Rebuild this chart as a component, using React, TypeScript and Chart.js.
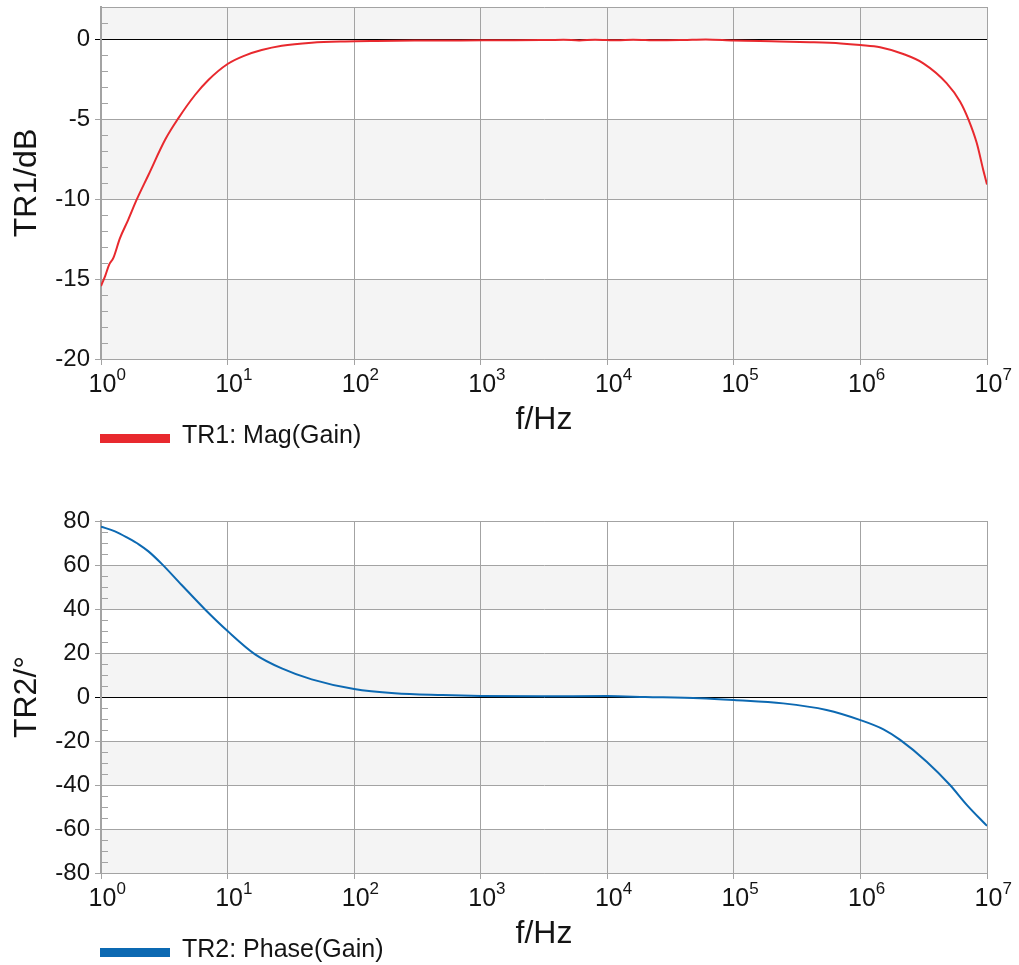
import React, { useEffect, useRef } from 'react';
import { Chart, registerables } from 'chart.js';

Chart.register(...registerables);

// ---------- data ----------
const xTickValues = [1, 10, 100, 1000, 10000, 100000, 1000000, 10000000];

const magFreq = [
  1, 1.08, 1.16, 1.25, 1.41, 1.64, 1.91, 2.37, 3.21, 4.08, 5.53, 7.05, 10, 13.5, 18.6, 26.8, 46.2, 84.7,
  150, 300, 700, 1500, 3000, 4500, 6000, 8000, 12000, 16000, 25000, 40000, 60000, 100000, 230000, 400000,
  700000, 1000000, 1430000, 2180000, 3140000, 4810000, 6120000, 7130000, 8300000, 9350000, 10000000,
];
const magDb = [
  -15.44, -14.8, -14.1, -13.7, -12.46, -11.3, -10.06, -8.5, -6.3, -4.96, -3.5, -2.56, -1.56, -1.05, -0.69, -0.42, -0.23, -0.15,
  -0.12, -0.1, -0.09, -0.08, -0.07, -0.04, -0.09, -0.04, -0.08, -0.04, -0.08, -0.06, -0.03, -0.1, -0.15, -0.2,
  -0.28, -0.38, -0.52, -0.94, -1.52, -2.77, -3.9, -5.02, -6.5, -8.2, -9.1,
];

const phaseFreq = [
  1, 1.29, 1.64, 2.0, 2.37, 3.02, 4.34, 6.64, 10, 16.5, 26.8, 46.2, 100, 209, 500, 1000, 3000, 10000, 20000,
  54000, 100000, 245000, 540000, 1000000, 1520000, 2060000, 3340000, 5100000, 6920000, 10000000,
];
const phaseDeg = [
  77.4, 75.3, 72.2, 69.3, 66.2, 60.5, 50.9, 39.8, 30.0, 19.4, 13.0, 8.0, 3.6, 1.7, 0.9, 0.5, 0.3, 0.4, 0.0,
  -0.6, -1.4, -2.9, -5.9, -10.5, -14.7, -19.5, -29.4, -40.0, -49.0, -58.6,
];

const magTicks = [-20, -15, -10, -5, 0];
const phaseTicks = [-80, -60, -40, -20, 0, 20, 40, 60, 80];

// ---------- styles ----------
const GRID = '#a3a3a3';
const BAND = '#f4f4f4';
const TEXT = '#141414';
const SANS = '"Liberation Sans", Arial, sans-serif';

type PanelCfg = {
  freq: number[];
  vals: number[];
  color: string;
  label: string;
  yTitle: string;
  yMin: number;
  yMax: number;
  yTicks: number[];
  minorStep: number;
  width: number;
  height: number;
  top: number;
  plotTop: number;
  plotBottom: number;
};

function makeDecor(c: PanelCfg) {
  return {
    id: 'decor',
    beforeDraw(chart: any) {
      const { ctx, chartArea: a, scales } = chart;
      const y = scales.y;
      ctx.save();
      ctx.fillStyle = BAND;
      const edges = [...c.yTicks];
      if (edges[edges.length - 1] < c.yMax) edges.push(c.yMax);
      for (let i = 0; i < edges.length - 1; i += 2) {
        const y1 = y.getPixelForValue(edges[i]);
        const y2 = y.getPixelForValue(edges[i + 1]);
        ctx.fillRect(a.left, y2, a.right - a.left, y1 - y2);
      }
      ctx.restore();
    },
    afterDraw(chart: any) {
      const { ctx, chartArea: a, scales } = chart;
      const x = scales.x;
      const y = scales.y;
      ctx.save();
      // frame (top and right)
      ctx.strokeStyle = GRID;
      ctx.lineWidth = 1;
      ctx.beginPath();
      ctx.moveTo(a.left, Math.round(a.top) + 0.5);
      ctx.lineTo(a.right + 1, Math.round(a.top) + 0.5);
      ctx.moveTo(Math.round(a.right) + 0.5, a.top);
      ctx.lineTo(Math.round(a.right) + 0.5, a.bottom);
      ctx.stroke();
      // minor ticks inside left edge
      ctx.beginPath();
      for (let v = c.yMin; v <= c.yMax + 1e-9; v += c.minorStep) {
        if (c.yTicks.indexOf(v) >= 0) continue;
        const py = Math.round(y.getPixelForValue(v)) + 0.5;
        ctx.moveTo(a.left, py);
        ctx.lineTo(a.left + 7, py);
      }
      ctx.stroke();
      // x tick labels 10^n
      ctx.fillStyle = TEXT;
      ctx.textBaseline = 'alphabetic';
      for (const v of xTickValues) {
        const px = x.getPixelForValue(v);
        ctx.font = '25px ' + SANS;
        ctx.textAlign = 'center';
        const w = ctx.measureText('10').width;
        const cx = px + 1.5;
        ctx.fillText('10', cx, a.bottom + 33);
        ctx.font = '17px ' + SANS;
        ctx.textAlign = 'left';
        ctx.fillText(String(Math.round(Math.log10(v))), cx + w / 2, a.bottom + 21);
      }
      // x title
      ctx.font = '32px ' + SANS;
      ctx.textAlign = 'center';
      ctx.fillText('f/Hz', (a.left + a.right) / 2, a.bottom + 70);
      // legend
      ctx.fillStyle = c.color;
      ctx.fillRect(a.left - 1, a.bottom + 75, 70, 9);
      ctx.fillStyle = TEXT;
      ctx.font = '25px ' + SANS;
      ctx.textAlign = 'left';
      ctx.fillText(c.label, 182, a.bottom + 84);
      ctx.restore();
    },
  };
}

function Panel({ cfg }: { cfg: PanelCfg }) {
  const ref = useRef<HTMLCanvasElement>(null);
  useEffect(() => {
    const c = cfg;
    const points = c.freq.map((f, i) => ({ x: f, y: c.vals[i] }));
    const chart = new Chart(ref.current as HTMLCanvasElement, {
      type: 'line',
      data: {
        datasets: [
          {
            label: c.label,
            data: points,
            borderColor: c.color,
            borderWidth: 2,
            pointRadius: 0,
            fill: false,
            cubicInterpolationMode: 'monotone',
          },
        ],
      },
      options: {
        animation: false,
        responsive: false,
        devicePixelRatio: 1,
        layout: { padding: { top: c.plotTop, right: c.width - 987, left: 0, bottom: 0 } },
        plugins: { legend: { display: false }, tooltip: { enabled: false }, title: { display: false } },
        scales: {
          x: {
            type: 'logarithmic',
            min: 1,
            max: 10000000,
            afterBuildTicks: (s: any) => {
              s.ticks = xTickValues.map((v) => ({ value: v, major: true }));
            },
            afterFit: (s: any) => {
              s.height = c.height - c.plotBottom;
              s.paddingLeft = 0;
              s.paddingRight = 0;
            },
            ticks: { display: false },
            grid: { color: GRID, lineWidth: 1, tickLength: 6, drawTicks: true },
            border: { color: GRID, width: 1 },
          },
          y: {
            type: 'linear',
            min: c.yMin,
            max: c.yMax,
            afterBuildTicks: (s: any) => {
              s.ticks = c.yTicks.map((v) => ({ value: v }));
            },
            afterFit: (s: any) => {
              s.width = 101;
              s.paddingTop = 0;
              s.paddingBottom = 0;
            },
            ticks: {
              font: { family: SANS, size: 24 },
              color: TEXT,
              padding: 5,
              callback: (v: any) => String(v),
            },
            grid: {
              color: (ctx: any) => (ctx.tick && ctx.tick.value === 0 ? '#000000' : GRID),
              lineWidth: 1,
              tickLength: 6,
            },
            border: { color: GRID, width: 2 },
            title: {
              display: true,
              text: c.yTitle,
              color: TEXT,
              font: { family: SANS, size: 32 },
              padding: { top: 8, bottom: 0 },
            },
          },
        },
      },
      plugins: [makeDecor(c)],
    } as any);
    return () => chart.destroy();
  }, []);
  return (
    <canvas
      ref={ref}
      width={cfg.width}
      height={cfg.height}
      style={{ display: 'block', position: 'absolute', left: 0, top: cfg.top }}
    />
  );
}

const magCfg: PanelCfg = {
  freq: magFreq,
  vals: magDb,
  color: '#e8292e',
  label: 'TR1: Mag(Gain)',
  yTitle: 'TR1/dB',
  yMin: -20,
  yMax: 2,
  yTicks: magTicks,
  minorStep: 1,
  width: 1019,
  height: 480,
  top: 0,
  plotTop: 7,
  plotBottom: 359,
};

const phaseCfg: PanelCfg = {
  freq: phaseFreq,
  vals: phaseDeg,
  color: '#0c69b2',
  label: 'TR2: Phase(Gain)',
  yTitle: 'TR2/°',
  yMin: -80,
  yMax: 80,
  yTicks: phaseTicks,
  minorStep: 5,
  width: 1019,
  height: 485,
  top: 480,
  plotTop: 41,
  plotBottom: 393,
};

export default function App() {
  return (
    <div style={{ position: 'absolute', left: 0, top: 0, width: 1019, height: 965, background: '#ffffff' }}>
      <Panel cfg={magCfg} />
      <Panel cfg={phaseCfg} />
    </div>
  );
}
